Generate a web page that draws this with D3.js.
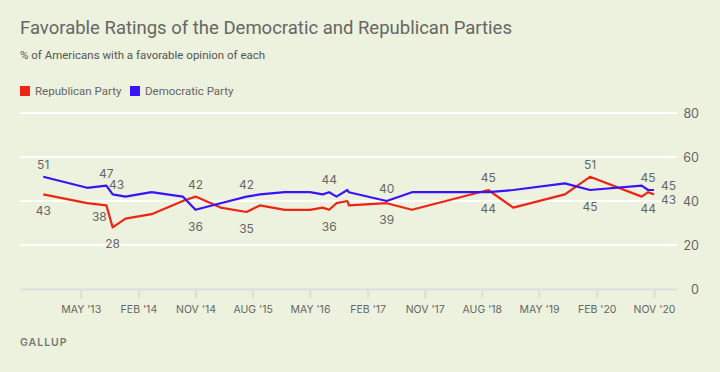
<!DOCTYPE html>
<html>
<head>
<meta charset="utf-8">
<script src="https://cdn.jsdelivr.net/npm/d3@7"></script>
<style>
  body { margin: 0; background: #ecf2de; }
  svg { display: block; font-family: Inter, "Open Sans", sans-serif; }
</style>
</head>
<body>
<div id="chart-area"></div>
<script>
// survey dates
var dates = ["2012-11-03", "2013-06-01", "2013-09-01", "2013-10-01", "2013-12-01",
             "2014-04-05", "2014-09-01", "2014-11-01", "2015-03-01", "2015-07-03",
             "2015-09-05", "2016-01-02", "2016-05-01", "2016-07-01", "2016-08-01",
             "2016-09-05", "2016-10-27", "2016-11-03", "2017-05-03", "2017-09-01",
             "2018-09-01", "2018-12-29", "2019-09-02", "2019-12-31", "2020-09-03",
             "2020-10-04", "2020-11-01"];
var republican = [43, 39, 38, 28, 32, 34, 40, 42, 37, 35, 38, 36, 36, 37, 36, 39, 40, 38,
                  39, 36, 45, 37, 43, 51, 42, 44, 43];
var democratic = [51, 46, 47, 43, 42, 44, 42, 36, 39, 42, 43, 44, 44, 43, 44, 42, 45, 44,
                  40, 44, 44, 45, 48, 45, 47, 45, 45];
var yTicks = [0, 20, 40, 60, 80];
var xTickDates = ["2013-05-01", "2014-02-01", "2014-11-01", "2015-08-01", "2016-05-01",
                  "2017-02-01", "2017-11-01", "2018-08-01", "2019-05-01", "2020-02-01",
                  "2020-11-01"];
var xTickLabels = ["MAY '13", "FEB '14", "NOV '14", "AUG '15", "MAY '16", "FEB '17",
                   "NOV '17", "AUG '18", "MAY '19", "FEB '20", "NOV '20"];
// value labels: [point index, series, placement]
var labels = [[0, "dem", "above"], [0, "rep", "below"], [2, "dem", "above"],
              [3, "dem", "aboveRight"], [2, "rep", "belowLeft"], [3, "rep", "below"],
              [7, "rep", "above"], [7, "dem", "below"], [9, "dem", "above"],
              [9, "rep", "below"], [14, "dem", "above"], [14, "rep", "below"],
              [18, "dem", "above"], [18, "rep", "below"], [20, "rep", "above"],
              [20, "dem", "below"], [23, "rep", "above"], [23, "dem", "below"],
              [25, "dem", "above"], [25, "rep", "below"], [26, "dem", "right"],
              [26, "rep", "right"]];

var width = 720, height = 372;
var red = "#f02413", blue = "#3a12ff";
var parse = d3.timeParse("%Y-%m-%d");

var svg = d3.select("#chart-area").append("svg")
            .attr("width", width)
            .attr("height", height);

var x = d3.scaleTime()
          .domain([parse("2012-07-15"), parse("2021-02-19")])
          .range([20, 677]);
var y = d3.scaleLinear()
          .domain([0, 80])
          .range([289, 113]);

// title block
svg.append("text").attr("x", 20).attr("y", 34)
   .attr("font-family", "Roboto, sans-serif")
   .attr("font-size", 18.5).attr("fill", "#666")
   .text("Favorable Ratings of the Democratic and Republican Parties");
svg.append("text").attr("x", 20).attr("y", 59)
   .attr("font-family", "Roboto, sans-serif")
   .attr("font-size", 11.5).attr("fill", "#555")
   .text("% of Americans with a favorable opinion of each");

var legend = [["Republican Party", red, 20], ["Democratic Party", blue, 130]];
legend.forEach((l) => {
  svg.append("rect").attr("x", l[2]).attr("y", 86).attr("width", 10).attr("height", 10)
     .attr("fill", l[1]);
  svg.append("text").attr("x", l[2] + 15).attr("y", 95)
     .attr("font-family", "Roboto, sans-serif")
     .attr("font-size", 11.5).attr("fill", "#666").text(l[0]);
});

// gridlines + y labels
svg.selectAll(".grid").data(yTicks.filter((d) => d > 0)).enter()
   .append("line")
     .attr("x1", 20).attr("x2", 677)
     .attr("y1", (d) => y(d)).attr("y2", (d) => y(d))
     .attr("stroke", "#fff").attr("stroke-width", 2);
svg.selectAll(".ylab").data(yTicks).enter()
   .append("text")
     .attr("x", 699).attr("y", (d) => y(d) + 4.5)
     .attr("text-anchor", "end")
     .attr("font-size", 12.5).attr("fill", "#666")
     .text((d) => d);

// x axis
var xAxis = d3.axisBottom(x)
              .tickValues(xTickDates.map(parse))
              .tickFormat((d, i) => xTickLabels[i])
              .tickSizeInner(9).tickSizeOuter(0).tickPadding(8);
var gx = svg.append("g").attr("transform", "translate(0,289)").call(xAxis);
gx.select(".domain").attr("stroke", "#dddddd").attr("stroke-width", 2);
gx.selectAll(".tick line").attr("stroke", "#dddddd").attr("stroke-width", 2);
gx.selectAll(".tick text").attr("font-size", 10.5).attr("fill", "#666")
  .attr("font-family", "Inter, sans-serif");

// lines
var data = dates.map((d, i) => ({date: parse(d), rep: republican[i], dem: democratic[i]}));
var series = [["rep", red], ["dem", blue]];
series.forEach((s) => {
  var line = d3.line().x((d) => x(d.date)).y((d) => y(d[s[0]]));
  svg.append("path").datum(data)
     .attr("d", line)
     .attr("fill", "none")
     .attr("stroke", s[1])
     .attr("stroke-width", 2.2)
     .attr("stroke-linejoin", "round");
});

// value labels
var offs = {above: [0, -8, "middle"], below: [0, 21, "middle"],
            aboveRight: [4, -5, "middle"], belowLeft: [-7, 16, "middle"],
            right: [7, 0, "start"]};
svg.selectAll(".vlab").data(labels).enter()
   .append("text")
     .attr("x", (d) => x(data[d[0]].date) + offs[d[2]][0])
     .attr("y", (d) => {
       var v = data[d[0]][d[1]];
       if (d[2] == "right") return y(v) + (d[1] == "dem" ? 0 : 10);
       return y(v) + offs[d[2]][1];
     })
     .attr("text-anchor", (d) => offs[d[2]][2])
     .attr("font-size", 12).attr("fill", "#666")
     .text((d) => data[d[0]][d[1]]);

svg.append("text").attr("x", 20).attr("y", 346)
   .attr("font-size", 10.5).attr("font-weight", 600).attr("letter-spacing", 1)
   .attr("fill", "#777").text("GALLUP");
</script>
</body>
</html>
